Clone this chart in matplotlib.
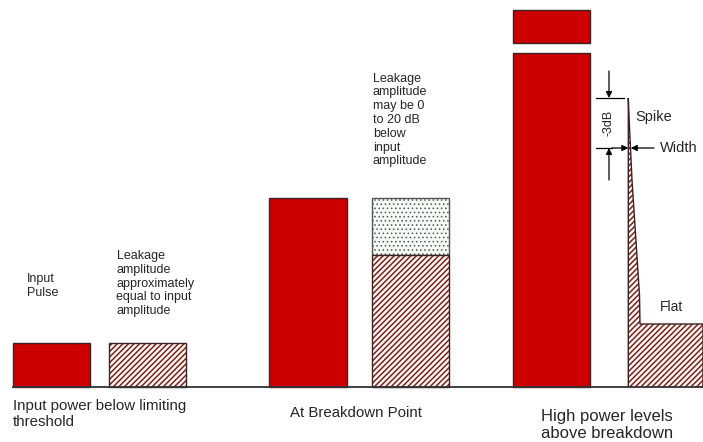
import matplotlib
matplotlib.use('Agg')
import matplotlib.pyplot as plt
from matplotlib.patches import Rectangle, Polygon

plt.rcParams['font.family'] = ['Liberation Sans', 'DejaVu Sans']

# ---- data (amplitudes measured in px above the baseline) ----
group_labels = ["Input power below limiting\nthreshold", "At Breakdown Point",
                "High power levels\nabove breakdown"]
input_amp = [44, 189, 377]          # input pulse amplitude per regime
leak_amp = [44, 132]                # leakage amplitude (lower bound)
leak_upper = [44, 189]              # leakage amplitude upper bound
break_gap = [334, 344]              # broken-axis gap in the high-power pulse
spike_top = 289                     # spike peak
spike_3db = 239                     # -3 dB level
flat_level = 63                     # flat leakage level
spike_prof_y = [289, 260, 207, 92, 63]       # spike right-edge profile heights
spike_prof_dx = [0.0, 1.2, 3.7, 11.2, 11.7]  # spike right-edge offsets

annot_left = "Leakage\namplitude\napproximately\nequal to input\namplitude"
annot_mid = "Leakage\namplitude\nmay be 0\nto 20 dB\nbelow\ninput\namplitude"

RED = '#CC0000'
EDGE = '#3a2222'
HATCH = '#7a2020'
CREAM = '#FFF9F2'
TXT = '#262626'

fig = plt.figure(figsize=(7.03, 4.42), dpi=100)
ax = fig.add_axes([0, 0, 1, 1])
ax.set_xlim(0, 703)
ax.set_ylim(-55, 387)
ax.axis('off')

W = 77.3
input_x = [12.7, 269.3, 512.7]
leak_x = [109.0, 371.7]
spike_x = 628.3

plt.rcParams['hatch.linewidth'] = 1.1

# input pulses
for i, (x, h) in enumerate(zip(input_x, input_amp)):
    if i < 2:
        ax.add_patch(Rectangle((x, 0), W, h, facecolor=RED, edgecolor=EDGE, lw=1.0))
    else:
        ax.add_patch(Rectangle((x, 0), W, break_gap[0], facecolor=RED, edgecolor=EDGE, lw=1.0))
        ax.add_patch(Rectangle((x, break_gap[1]), W, h - break_gap[1],
                               facecolor=RED, edgecolor=EDGE, lw=1.0))

# leakage bars
for x, lo, hi in zip(leak_x, leak_amp, leak_upper):
    if hi > lo:
        with plt.rc_context({'hatch.linewidth': 0.6}):
            p = Rectangle((x, lo), W, hi - lo, facecolor='#F4FAF4', edgecolor='#555555',
                          lw=1.0, hatch='....')
            ax.add_patch(p)
    ax.add_patch(Rectangle((x, 0), W, lo, facecolor=CREAM, edgecolor=HATCH, lw=0, hatch='//////'))
    ax.add_patch(Rectangle((x, 0), W, lo, facecolor='none', edgecolor=EDGE, lw=1.0))

# spike + flat leakage
pts = [(spike_x, 0), (spike_x, spike_top)]
for y, dx in zip(spike_prof_y, spike_prof_dx):
    pts.append((spike_x + dx, y))
pts += [(703, flat_level), (703, 0)]
ax.add_patch(Polygon(pts, closed=True, facecolor=CREAM, edgecolor=HATCH, lw=0, hatch='//////'))
ax.add_patch(Polygon(pts, closed=False, facecolor='none', edgecolor=EDGE, lw=1.0))

# baseline
ax.plot([12.7, 703], [0, 0], color='#333333', lw=1.3)

# dimension lines
ax.plot([596, 624], [spike_top, spike_top], color='k', lw=0.9)
ax.plot([596, 612], [spike_3db, spike_3db], color='k', lw=0.9)
arr = dict(arrowstyle='-|>', color='k', lw=0.9, mutation_scale=9, shrinkA=0, shrinkB=0)
ax.annotate('', xy=(609, spike_top), xytext=(609, spike_top + 27), arrowprops=arr)
ax.annotate('', xy=(609, spike_3db), xytext=(609, spike_3db - 32), arrowprops=arr)
ax.annotate('', xy=(spike_x, spike_3db), xytext=(612, spike_3db), arrowprops=arr)
ax.annotate('', xy=(spike_x + 2.5, spike_3db), xytext=(654, spike_3db), arrowprops=arr)

# texts
ax.text(27, 101, "Input\nPulse", fontsize=9, color=TXT, ha='left', va='center', linespacing=1.2)
ax.text(116.5, 103.5, annot_left, fontsize=9, color=TXT, ha='left', va='center', linespacing=1.17)
ax.text(372.7, 267, annot_mid, fontsize=9, color=TXT, ha='left', va='center', linespacing=1.2)
ax.text(13, -27, group_labels[0], fontsize=10.8, color=TXT, ha='left', va='center', linespacing=1.13)
ax.text(355.5, -26, group_labels[1], fontsize=10.8, color=TXT, ha='center', va='center')
ax.text(607, -38, group_labels[2], fontsize=12, color=TXT, ha='center', va='center', linespacing=1.2)
ax.text(635, 270, "Spike", fontsize=10.5, color=TXT, ha='left', va='center')
ax.text(660, spike_3db, "Width", fontsize=10.5, color=TXT, ha='left', va='center')
ax.text(660, 80, "Flat", fontsize=10, color=TXT, ha='left', va='center')
ax.text(608, 264, "-3dB", fontsize=9, color=TXT, ha='center', va='center', rotation=90)

fig.savefig('out.png', dpi=100)
